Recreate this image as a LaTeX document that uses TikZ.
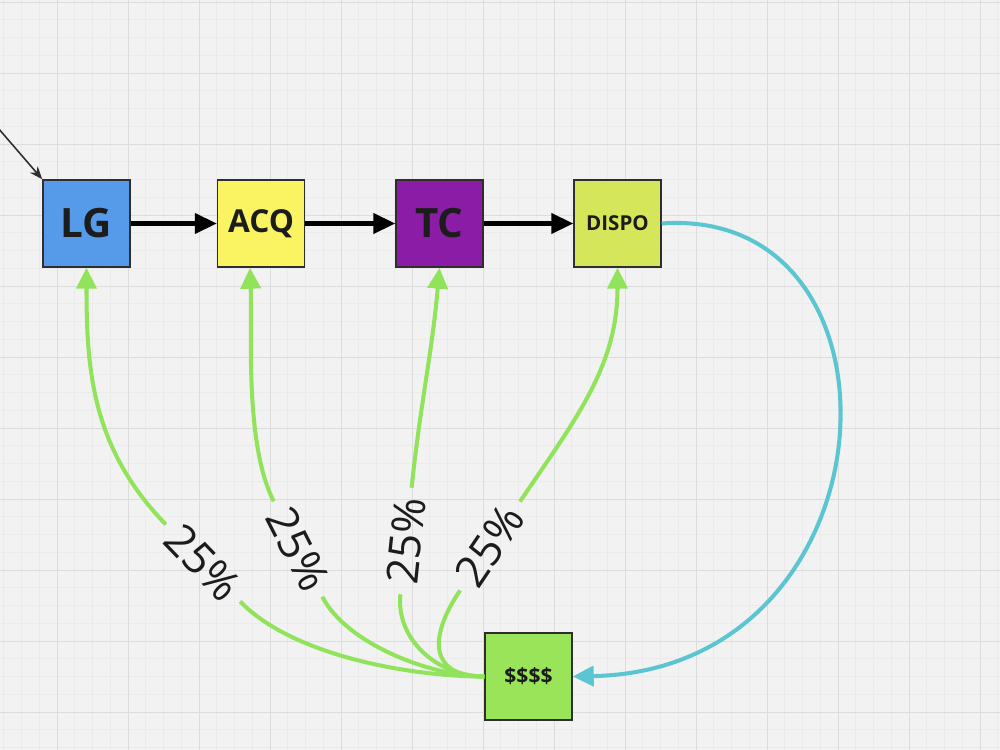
\documentclass[tikz,border=0pt]{standalone}
\usepackage{fontspec}
\setmainfont{Open Sans}
\usetikzlibrary{arrows.meta}
\definecolor{bg}{HTML}{F2F2F2}
\definecolor{minorgrid}{HTML}{EBEBEB}
\definecolor{majorgrid}{HTML}{DCDCDC}
\definecolor{lgblue}{HTML}{559BEA}
\definecolor{acqyellow}{HTML}{FBF462}
\definecolor{tcpurple}{HTML}{8A1CA5}
\definecolor{dispogreen}{HTML}{D5E65A}
\definecolor{moneygreen}{HTML}{9AE45A}
\definecolor{flowgreen}{HTML}{92E35C}
\definecolor{flowcyan}{HTML}{5CC5D2}
\definecolor{textdark}{HTML}{1C1C1C}
\definecolor{boxline}{HTML}{2E2E2E}
\begin{document}
\begin{tikzpicture}[x=0.02cm,y=0.02cm,
  box/.style={draw=boxline, line width=0.8pt, minimum size=1.74cm, inner sep=0pt, text=textdark, font=\bfseries},
  pct/.style={text=textdark, font=\fontsize{25}{25}\selectfont, inner xsep=0.2cm, inner ysep=0.08cm},
  chain/.style={line width=2.3pt, black, -{Triangle[length=0.44cm,width=0.4cm]}},
  gline/.style={line width=2.3pt, flowgreen},
  garrow/.style={gline, -{Triangle[length=0.42cm,width=0.4cm]}},
  carrow/.style={line width=2.3pt, flowcyan, -{Triangle[length=0.42cm,width=0.4cm]}},
  thinarrow/.style={line width=0.9pt, boxline, -{Stealth[length=0.26cm,width=0.2cm]}}
]
\fill[bg] (0,0) rectangle (1000,-750);
\useasboundingbox (0,0) rectangle (1000,-750);
% grid
\foreach \i in {0,...,58} { \draw[minorgrid, line width=0.4pt] ({-14+17.75*\i},0) -- ++(0,-750); }
\foreach \i in {0,...,44} { \draw[minorgrid, line width=0.4pt] (0,{-(2+17.75*(\i-1))}) -- ++(1000,0); }
\foreach \i in {0,...,15} { \draw[majorgrid, line width=0.5pt] ({-14+71*\i},0) -- ++(0,-750); }
\foreach \i in {0,...,10} { \draw[majorgrid, line width=0.5pt] (0,{-(2+71*\i)}) -- ++(1000,0); }

% nodes
\node[box, fill=lgblue, font=\bfseries\fontsize{23}{23}\selectfont] (LG) at (86.5,-223.5) {LG};
\node[box, fill=acqyellow, font=\bfseries\fontsize{18}{18}\selectfont] (ACQ) at (261,-223.5) {ACQ};
\node[box, fill=tcpurple, font=\bfseries\fontsize{23}{23}\selectfont] (TC) at (439.5,-223.5) {TC};
\node[box, fill=dispogreen, font=\bfseries\fontsize{11.7}{12}\selectfont] (DISPO) at (617.5,-223.5) {DISPO};
\node[box, fill=moneygreen, font=\bfseries\fontsize{12}{12}\selectfont] (money) at (528.5,-676.5) {\$\$\$\$};

% labels
\node[pct, rotate=-46] (p1) at (203,-563) {25\%};
\node[pct, rotate=-63] (p2) at (298,-549) {25\%};
\node[pct, rotate=84] (p3) at (406,-541) {25\%};
\node[pct, rotate=56] (p4) at (490,-546) {25\%};

% incoming arrow
\coordinate (src) at (-2,-128);
\draw[thinarrow] (src) -- (LG.north west);

% chain
\draw[chain] (LG.east) -- (ACQ.west);
\draw[chain] (ACQ.east) -- (TC.west);
\draw[chain] (TC.east) -- (DISPO.west);

% green flows
\draw[gline] (money.west) to[out=180,in=-46,looseness=0.75] (p1.east);
\draw[garrow] (p1.west) to[out=134,in=-90] (LG.south);
\draw[gline] (money.west) to[out=180,in=-63,looseness=0.75] (p2.east);
\draw[garrow] (p2.west) to[out=117,in=-88,looseness=0.7] (ACQ.-104);
\draw[gline] (money.west) to[out=180,in=-96] (p3.west);
\draw[garrow] (p3.east) to[out=84,in=-95] (TC.south);
\draw[gline] (money.west) to[out=180,in=-124,looseness=1.6] (p4.west);
\draw[garrow] (p4.east) to[out=56,in=-90] (DISPO.south);

% cyan return
\draw[carrow] (DISPO.east) .. controls (920,-205) and (900,-670) .. (money.east);
\end{tikzpicture}
\end{document}
